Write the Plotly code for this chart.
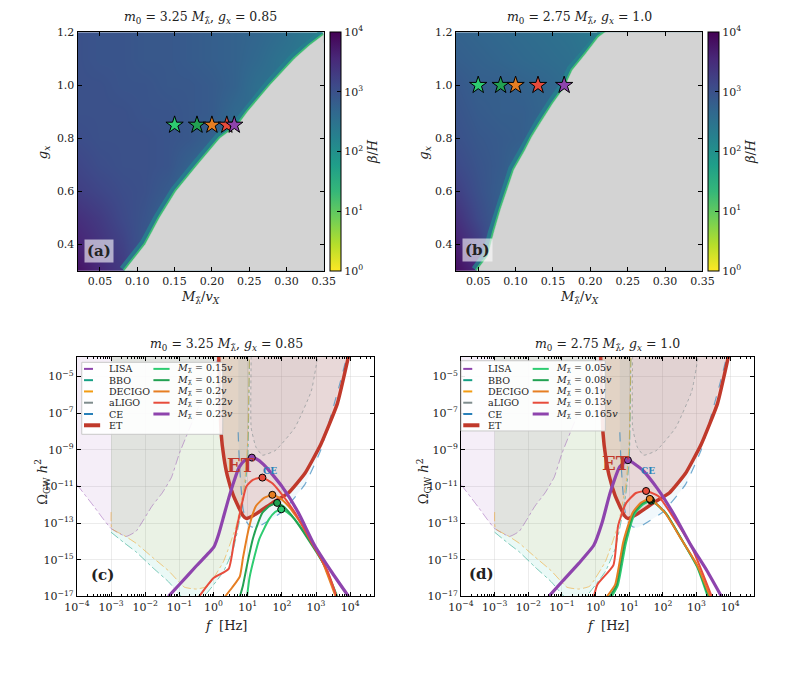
import plotly.graph_objects as go

W, H = 788, 676
FONT = "DejaVu Serif"


def px_x(p):
    return p / W


def px_y(p):
    return 1 - p / H


# ------------------------------------------------------------------ data
# heat maps: log10(beta/H) on a coarse grid (rows = g_x, cols = M/v_X)
m_grid = [0.02, 0.05, 0.08, 0.11, 0.14, 0.17, 0.20, 0.23, 0.26, 0.29, 0.32, 0.35]
g_grid = [0.3, 0.4, 0.5, 0.6, 0.7, 0.8, 0.9, 1.0, 1.1, 1.2]
logbeta_a = [
    [3.8, 3.55, 3.3, 2.8, 2.6, 2.6, 2.6, 2.6, 2.6, 2.6, 2.6, 2.6],
    [3.6, 3.4, 3.2, 2.9, 2.6, 2.6, 2.6, 2.6, 2.6, 2.6, 2.6, 2.6],
    [3.45, 3.3, 3.1, 2.95, 2.7, 2.6, 2.6, 2.6, 2.6, 2.6, 2.6, 2.6],
    [3.25, 3.15, 3.05, 3.0, 2.85, 2.6, 2.6, 2.6, 2.6, 2.6, 2.6, 2.6],
    [3.15, 3.05, 3.0, 3.0, 2.95, 2.75, 2.6, 2.6, 2.6, 2.6, 2.6, 2.6],
    [3.05, 3.0, 3.0, 3.0, 2.95, 2.9, 2.75, 2.6, 2.6, 2.6, 2.6, 2.6],
    [3.0, 3.0, 3.0, 2.95, 2.95, 2.9, 2.85, 2.65, 2.6, 2.6, 2.6, 2.6],
    [3.0, 3.0, 2.95, 2.95, 2.9, 2.9, 2.85, 2.75, 2.55, 2.5, 2.5, 2.5],
    [3.0, 2.95, 2.95, 2.9, 2.9, 2.85, 2.8, 2.75, 2.65, 2.5, 2.4, 2.4],
    [3.0, 2.95, 2.95, 2.9, 2.9, 2.85, 2.8, 2.75, 2.7, 2.6, 2.45, 2.3],
]
logbeta_b = [
    [3.85, 3.55, 2.7, 2.7, 2.7, 2.7, 2.7, 2.7, 2.7, 2.7, 2.7, 2.7],
    [3.65, 3.3, 2.7, 2.7, 2.7, 2.7, 2.7, 2.7, 2.7, 2.7, 2.7, 2.7],
    [3.45, 3.1, 2.8, 2.7, 2.7, 2.7, 2.7, 2.7, 2.7, 2.7, 2.7, 2.7],
    [3.25, 3.0, 2.8, 2.7, 2.7, 2.7, 2.7, 2.7, 2.7, 2.7, 2.7, 2.7],
    [3.1, 2.95, 2.85, 2.65, 2.6, 2.6, 2.6, 2.6, 2.6, 2.6, 2.6, 2.6],
    [3.0, 2.9, 2.85, 2.8, 2.6, 2.6, 2.6, 2.6, 2.6, 2.6, 2.6, 2.6],
    [2.95, 2.85, 2.8, 2.8, 2.7, 2.55, 2.5, 2.5, 2.5, 2.5, 2.5, 2.5],
    [2.9, 2.8, 2.8, 2.75, 2.7, 2.6, 2.5, 2.5, 2.5, 2.5, 2.5, 2.5],
    [2.8, 2.75, 2.7, 2.65, 2.6, 2.55, 2.45, 2.45, 2.45, 2.45, 2.45, 2.45],
    [2.75, 2.7, 2.65, 2.6, 2.55, 2.5, 2.4, 2.4, 2.4, 2.4, 2.4, 2.4],
]
# edge of the region with a first-order transition
edge_a_g = [0.3, 0.4, 0.5, 0.6, 0.7, 0.8, 0.85, 0.9, 1.0, 1.1, 1.15, 1.19]
edge_a_m = [0.083, 0.111, 0.130, 0.152, 0.181, 0.211, 0.235, 0.248, 0.278, 0.311, 0.331, 0.350]
edge_b_g = [0.3, 0.356, 0.444, 0.494, 0.531, 0.606, 0.681, 0.756, 0.806, 0.856, 0.931, 0.994, 1.056, 1.119, 1.181, 1.2]
edge_b_m = [0.048, 0.063, 0.071, 0.076, 0.080, 0.089, 0.098, 0.113, 0.122, 0.133, 0.150, 0.166, 0.176, 0.194, 0.211, 0.220]

# benchmark points
stars_a_m = [0.15, 0.18, 0.20, 0.22, 0.23]
stars_a_g = [0.85, 0.85, 0.85, 0.85, 0.85]
stars_b_m = [0.05, 0.08, 0.10, 0.13, 0.165]
stars_b_g = [1.0, 1.0, 1.0, 1.0, 1.0]
bench_colors = ["#2ecc71", "#22a152", "#e67e22", "#e74c3c", "#8e44ad"]
labels_c = ["0.15", "0.18", "0.2", "0.22", "0.23"]
labels_d = ["0.05", "0.08", "0.1", "0.13", "0.165"]

# detector sensitivity curves: log10 f [Hz], log10 Omega h^2
lisa_lf = [-4.0, -3.5, -3.22, -3.0, -2.56, -2.27, -1.8, -1.5, -1.23, -1.0, -0.56, -0.2, 0.15]
lisa_lo = [-10.9, -12.1, -12.8, -13.3, -13.73, -13.45, -12.07, -11.35, -10.5, -9.2, -7.2, -5.6, -3.9]
bbo_lf = [-3.0, -2.6, -2.27, -1.8, -1.32, -0.94, -0.6, -0.28, 0.29, 0.58, 0.77, 0.9, 1.0, 1.03, 1.05]
bbo_lo = [-13.5, -14.1, -14.57, -15.4, -16.2, -17.0, -17.4, -17.0, -15.64, -14.4, -12.8, -11.4, -9.6, -7.0, -3.9]
decigo_lf = [-3.0, -2.98, -2.6, -2.27, -1.8, -1.32, -0.85, -0.5, -0.18, 0.29, 0.67, 0.91, 1.0, 1.05]
decigo_lo = [-12.4, -13.3, -13.7, -14.1, -14.85, -15.6, -16.5, -16.6, -16.45, -15.1, -13.1, -10.8, -8.5, -3.9]
aligo_lf = [1.1, 1.1, 1.24, 1.43, 1.81, 2.38, 2.86, 3.05]
aligo_lo = [-3.9, -7.8, -8.86, -9.3, -9.04, -7.8, -5.8, -3.9]
ce_lf = [0.72, 0.75, 0.8, 0.86, 0.95, 1.1, 1.25, 1.5, 2.0, 2.67, 3.14, 3.71, 3.9]
ce_lo = [-8.05, -9.5, -11.0, -12.2, -12.9, -13.2, -13.25, -13.0, -12.4, -10.9, -9.0, -5.3, -3.9]
et_lf = [0.15, 0.19, 0.22, 0.3, 0.4, 0.58, 0.86, 0.96, 1.24, 1.72, 2.19, 2.67, 3.14, 3.62, 3.95]
et_lo = [-3.9, -6.5, -8.1, -9.4, -10.4, -11.5, -12.6, -12.75, -12.5, -11.9, -11.36, -10.3, -8.7, -6.5, -3.9]

# GW spectra, panel (c)
c_lf = [
    [0.98, 1.05, 1.2, 1.34, 1.62, 1.8, 1.98, 2.15, 2.38, 2.86, 3.24, 3.62],
    [0.77, 0.86, 1.0, 1.15, 1.3, 1.43, 1.65, 1.86, 2.05, 2.29, 2.76, 3.24, 3.6],
    [0.34, 0.55, 0.77, 0.86, 1.05, 1.24, 1.48, 1.72, 1.95, 2.19, 2.67, 3.14, 3.57],
    [-0.42, 0.0, 0.44, 0.6, 0.77, 0.96, 1.15, 1.43, 1.7, 1.9, 2.38, 2.86, 3.33, 3.6],
    [-1.32, -1.0, -0.5, 0.01, 0.15, 0.3, 0.45, 0.6, 0.75, 0.9, 1.12, 1.3, 1.53, 2.0, 2.48, 2.95, 3.43, 3.95],
]
c_lo = [
    [-17.0, -16.0, -14.8, -13.86, -12.8, -12.4, -12.25, -12.4, -12.8, -14.04, -15.3, -17.0],
    [-17.0, -16.4, -15.1, -13.86, -13.0, -12.43, -12.05, -11.9, -12.1, -12.6, -13.86, -15.3, -17.0],
    [-17.0, -16.5, -15.9, -14.9, -13.14, -12.07, -11.63, -11.46, -11.65, -12.07, -13.32, -14.9, -17.0],
    [-17.0, -16.0, -15.5, -14.0, -12.45, -11.0, -10.64, -10.52, -10.8, -11.2, -12.43, -14.04, -15.6, -17.0],
    [-17.0, -16.35, -15.33, -14.3, -13.6, -12.6, -11.6, -10.7, -9.95, -9.6, -9.43, -9.55, -9.93, -11.0, -12.43, -14.2, -15.6, -17.0],
]
c_peak_lf = [1.98, 1.86, 1.72, 1.43, 1.12]
c_peak_lo = [-12.25, -11.9, -11.46, -10.52, -9.43]

# GW spectra, panel (d)
d_lf = [
    [0.48, 0.66, 0.9, 1.16, 1.4, 1.65, 2.1, 2.56, 3.02, 3.33],
    [0.42, 0.62, 0.86, 1.13, 1.37, 1.63, 2.08, 2.55, 3.02, 3.36],
    [0.34, 0.58, 0.82, 1.1, 1.34, 1.61, 2.06, 2.54, 3.02, 3.4],
    [-0.05, 0.05, 0.53, 0.67, 0.91, 1.2, 1.5, 1.87, 2.35, 2.83, 3.45],
    [-1.39, -1.0, -0.5, -0.05, 0.19, 0.43, 0.72, 0.96, 1.39, 1.87, 2.35, 2.83, 3.31, 3.74],
]
d_lo = [
    [-17.0, -16.4, -14.1, -12.5, -12.0, -11.78, -12.5, -13.9, -15.4, -17.0],
    [-17.0, -16.4, -14.06, -12.45, -11.95, -11.72, -12.45, -13.88, -15.35, -17.0],
    [-17.0, -16.36, -14.04, -12.43, -11.9, -11.68, -12.43, -13.86, -15.3, -17.0],
    [-17.0, -16.36, -15.29, -13.14, -11.9, -11.36, -11.25, -11.54, -12.8, -14.2, -17.0],
    [-17.0, -16.2, -15.2, -14.2, -13.0, -11.36, -9.93, -9.57, -10.1, -11.2, -12.6, -14.2, -15.6, -17.0],
]
d_peak_lf = [1.65, 1.63, 1.61, 1.5, 0.96]
d_peak_lo = [-11.78, -11.72, -11.68, -11.25, -9.57]

detectors = [
    # name, lf, lo, line colour, fill colour, dash, width
    ("LISA", lisa_lf, lisa_lo, "rgba(142,68,173,0.45)", "rgba(142,68,173,0.09)", "dashdot", 1.0),
    ("BBO", bbo_lf, bbo_lo, "rgba(22,160,133,0.55)", "rgba(26,188,156,0.09)", "dashdot", 1.0),
    ("DECIGO", decigo_lf, decigo_lo, "rgba(243,156,18,0.5)", "rgba(243,156,18,0.07)", "dashdot", 1.0),
    ("aLIGO", aligo_lf, aligo_lo, "rgba(127,140,141,0.6)", "rgba(127,140,141,0.06)", "dot", 1.0),
    ("CE", ce_lf, ce_lo, "rgba(41,128,185,0.65)", "rgba(52,152,219,0.07)", "dash", 1.2),
    ("ET", et_lf, et_lo, "#c0392b", "rgba(192,57,43,0.17)", "solid", 3.5),
]
legend_colors = ["#8e44ad", "#16a085", "#f39c12", "#7f8c8d", "#2980b9", "#c0392b"]

LOG_TOP = -3.5  # beyond visible range, used to close sensitivity regions

# ------------------------------------------------------------------ figure
fig = go.Figure()

# heat maps
for (z, edge_m, edge_g, sm, sg, xa, ya, cbx) in [
    (logbeta_a, edge_a_m, edge_a_g, stars_a_m, stars_a_g, "x", "y", 327),
    (logbeta_b, edge_b_m, edge_b_g, stars_b_m, stars_b_g, "x2", "y2", 718),
]:
    fig.add_trace(go.Heatmap(
        x=m_grid, y=g_grid, z=z, zmin=0, zmax=4, colorscale="Viridis", reversescale=True,
        zsmooth="best", xaxis=xa, yaxis=ya, hoverinfo="skip",
        colorbar=dict(
            x=px_x(cbx), xanchor="left", xpad=0, ypad=0,
            y=(px_y(270) + px_y(26.7)) / 2, yanchor="middle",
            len=(270 - 26.7) / H, lenmode="fraction", thickness=11, thicknessmode="pixels",
            outlinecolor="black", outlinewidth=1,
            tickvals=[0, 1, 2, 3, 4],
            ticktext=["10<sup>0</sup>", "10<sup>1</sup>", "10<sup>2</sup>", "10<sup>3</sup>", "10<sup>4</sup>"],
            ticks="inside", ticklen=4, tickcolor="black",
            tickfont=dict(family=FONT, size=11, color="#222"),
            title=dict(text="<i>β</i>/<i>H</i>", side="right", font=dict(family=FONT, size=13, color="#222")),
        ),
    ))
    fig.add_trace(go.Scatter(x=edge_m, y=edge_g, mode="lines", xaxis=xa, yaxis=ya,
                             line=dict(color="rgba(38,130,142,0.8)", width=12), hoverinfo="skip", showlegend=False))
    fig.add_trace(go.Scatter(x=edge_m, y=edge_g, mode="lines", xaxis=xa, yaxis=ya,
                             line=dict(color="#3dbc74", width=4), hoverinfo="skip", showlegend=False))
    poly_x = list(edge_m) + [edge_m[-1], 0.40, 0.40, edge_m[0]]
    poly_y = list(edge_g) + [1.25, 1.25, 0.25, 0.25]
    fig.add_trace(go.Scatter(x=poly_x, y=poly_y, mode="lines", fill="toself", fillcolor="#d3d3d3",
                             line=dict(color="#d3d3d3", width=0.5), xaxis=xa, yaxis=ya,
                             hoverinfo="skip", showlegend=False))
    fig.add_trace(go.Scatter(x=sm, y=sg, mode="markers", xaxis=xa, yaxis=ya,
                             marker=dict(symbol="star", size=13, color=bench_colors,
                                         line=dict(color="black", width=1)),
                             hoverinfo="skip", showlegend=False))

# GW panels
for (lfs, los, plf, plo, xa, ya) in [
    (c_lf, c_lo, c_peak_lf, c_peak_lo, "x3", "y3"),
    (d_lf, d_lo, d_peak_lf, d_peak_lo, "x4", "y4"),
]:
    for (name, lf, lo, col, fcol, dash, wid) in detectors:
        fx = [10 ** v for v in lf] + [10 ** lf[-1], 10 ** lf[0]]
        fy = [10 ** v for v in lo] + [10 ** LOG_TOP, 10 ** LOG_TOP]
        fig.add_trace(go.Scatter(x=fx, y=fy, mode="lines", fill="toself", fillcolor=fcol,
                                 line=dict(width=0, color=fcol, shape="spline", smoothing=0.4),
                                 xaxis=xa, yaxis=ya, hoverinfo="skip", showlegend=False))
    for (name, lf, lo, col, fcol, dash, wid) in detectors:
        fig.add_trace(go.Scatter(x=[10 ** v for v in lf], y=[10 ** v for v in lo], mode="lines",
                                 line=dict(color=col, width=wid, dash=dash, shape="spline", smoothing=0.4),
                                 xaxis=xa, yaxis=ya, hoverinfo="skip", showlegend=False))
    for i in range(5):
        fig.add_trace(go.Scatter(x=[10 ** v for v in lfs[i]], y=[10 ** v for v in los[i]], mode="lines",
                                 line=dict(color=bench_colors[i], width=3.2 if i == 4 else 2.0,
                                           shape="spline", smoothing=0.5),
                                 xaxis=xa, yaxis=ya, hoverinfo="skip", showlegend=False))
    fig.add_trace(go.Scatter(x=[10 ** v for v in plf], y=[10 ** v for v in plo], mode="markers",
                             marker=dict(size=7, color=bench_colors, line=dict(color="black", width=1)),
                             xaxis=xa, yaxis=ya, hoverinfo="skip", showlegend=False))

# ------------------------------------------------------------------ axes
tick_font = dict(family=FONT, size=11, color="#222")
base = dict(showline=True, linecolor="black", linewidth=1, mirror="allticks", ticks="inside",
            ticklen=4, tickcolor="black", tickfont=tick_font, zeroline=False, showgrid=False)


def sup(k):
    return "10<sup>" + (str(k) if k >= 0 else "\u2212" + str(-k)) + "</sup>"


m_ticks = [0.05, 0.10, 0.15, 0.20, 0.25, 0.30, 0.35]
g_ticks = [0.4, 0.6, 0.8, 1.0, 1.2]
f_exps = list(range(-4, 5))
o_exps = [-17, -15, -13, -11, -9, -7, -5]
minor_f = [k * 10 ** n for n in range(-4, 5) for k in range(2, 10)]

hx = dict(base, range=[0.02, 0.35], tickvals=m_ticks, ticktext=["%.2f" % v for v in m_ticks])
hy = dict(base, range=[0.3, 1.2], tickvals=g_ticks, ticktext=["%.1f" % v for v in g_ticks])
lx = dict(base, type="log", range=[-4, 4.7], tickvals=[10 ** k for k in f_exps],
          ticktext=[sup(k) for k in f_exps], showgrid=True, gridcolor="rgba(200,200,200,0.35)",
          minor=dict(tickvals=minor_f, ticks="inside", ticklen=2, tickcolor="black", showgrid=False))
ly = dict(base, type="log", range=[-17, -3.95], tickvals=[10 ** k for k in o_exps],
          ticktext=[sup(k) for k in o_exps], showgrid=True, gridcolor="rgba(200,200,200,0.35)")

top_dom = [px_y(270), px_y(26.7)]
bot_dom = [px_y(602), px_y(358)]
fig.update_layout(
    xaxis=dict(hx, domain=[px_x(66.7), px_x(321)], anchor="y"),
    yaxis=dict(hy, domain=top_dom, anchor="x"),
    xaxis2=dict(hx, domain=[px_x(457.3), px_x(712)], anchor="y2"),
    yaxis2=dict(hy, domain=top_dom, anchor="x2"),
    xaxis3=dict(lx, domain=[px_x(66), px_x(373)], anchor="y3"),
    yaxis3=dict(ly, domain=bot_dom, anchor="x3"),
    xaxis4=dict(lx, domain=[px_x(462.7), px_x(765)], anchor="y4"),
    yaxis4=dict(ly, domain=bot_dom, anchor="x4"),
    width=W, height=H, margin=dict(l=0, r=0, t=0, b=0),
    paper_bgcolor="white", plot_bgcolor="white", showlegend=False,
    font=dict(family=FONT, color="#222"),
)

# ------------------------------------------------------------------ text
ann = []


def text(x, y, s, size=13, angle=0, xanchor="center", yanchor="middle", color="#222", **kw):
    ann.append(dict(x=px_x(x), y=px_y(y), xref="paper", yref="paper", text=s, showarrow=False,
                    font=dict(family=FONT, size=size, color=color), textangle=angle,
                    xanchor=xanchor, yanchor=yanchor, **kw))


title_a = "<i>m</i><sub>0</sub> = 3.25 <i>M</i><sub>λ̃</sub>, <i>g<sub>x</sub></i> = 0.85"
title_b = "<i>m</i><sub>0</sub> = 2.75 <i>M</i><sub>λ̃</sub>, <i>g<sub>x</sub></i> = 1.0"
text(194, 12, title_a, 12.5)
text(585, 12, title_b, 12.5)
text(220, 345, title_a, 12.5)
text(614, 345, title_b, 12.5)
mx = "<i>M</i><sub>λ̃</sub>/<i>v<sub>X</sub></i>"
text(194, 297, mx, 13)
text(585, 297, mx, 13)
text(31, 150, "<i>g<sub>x</sub></i>", 13, angle=-90)
text(425, 150, "<i>g<sub>x</sub></i>", 13, angle=-90)
text(220, 632, "<i>f</i>  [Hz]", 13)
text(614, 632, "<i>f</i>  [Hz]", 13)
text(30, 485, "Ω<sub>GW</sub> <i>h</i><sup>2</sup>", 13, angle=-90)
text(424, 485, "Ω<sub>GW</sub> <i>h</i><sup>2</sup>", 13, angle=-90)
text(89, 250, "<b>(a)</b>", 15, bgcolor="rgba(255,255,255,0.6)", borderpad=2)
text(480, 249, "<b>(b)</b>", 15, bgcolor="rgba(255,255,255,0.6)", borderpad=2)
text(92, 580, "<b>(c)</b>", 15)
text(484, 579, "<b>(d)</b>", 15)

# detector labels inside the GW panels
for xa, ya, et_pos, ce_pos in [("x3", "y3", (0.8, -9.84), (1.65, -10.14)),
                               ("x4", "y4", (0.62, -9.75), (1.56, -10.14))]:
    ann.append(dict(x=et_pos[0], y=et_pos[1], xref=xa, yref=ya, text="<b>ET</b>", showarrow=False,
                    font=dict(family=FONT, size=18, color="#c0392b")))
    ann.append(dict(x=ce_pos[0], y=ce_pos[1], xref=xa, yref=ya, text="<b>CE</b>", showarrow=False,
                    font=dict(family=FONT, size=9, color="#2980b9")))

# manual two-column legends
shapes = []


def legend(box, c1_line, c1_text, c2_line, c2_text, row0, step, mlabels):
    x0, y0, x1, y1 = box
    shapes.append(dict(type="rect", xref="paper", yref="paper", x0=px_x(x0), x1=px_x(x1),
                       y0=px_y(y1), y1=px_y(y0), fillcolor="rgba(255,255,255,0.9)",
                       line=dict(color="#c8c8c8", width=1), layer="above"))
    for i, (name, lf, lo, col, fcol, dash, wid) in enumerate(detectors):
        y = row0 + i * step
        shapes.append(dict(type="line", xref="paper", yref="paper", x0=px_x(c1_line[0]), x1=px_x(c1_line[1]),
                           y0=px_y(y), y1=px_y(y), layer="above",
                           line=dict(color=legend_colors[i], width=4 if name == "ET" else 2,
                                     dash="solid" if name == "ET" else "dash")))
        text(c1_text, y, name, 9.5, xanchor="left")
    for i in range(5):
        y = row0 + i * step
        shapes.append(dict(type="line", xref="paper", yref="paper", x0=px_x(c2_line[0]), x1=px_x(c2_line[1]),
                           y0=px_y(y), y1=px_y(y), layer="above",
                           line=dict(color=bench_colors[i], width=3 if i == 4 else 2)))
        text(c2_text, y, "<i>M</i><sub>λ̃</sub> = " + mlabels[i] + "<i>v</i>", 9.5, xanchor="left")


legend((71, 363.3, 216.7, 436.7), (73.3, 90), 97, (145, 161.7), 167, 370, 11.5, labels_c)
legend((462.7, 361.7, 611.7, 433.3), (465, 481.7), 488, (536.7, 553.3), 559, 370, 11.5, labels_d)

fig.update_layout(annotations=ann, shapes=shapes)
fig.write_html("out.html", config={"displayModeBar": False})
